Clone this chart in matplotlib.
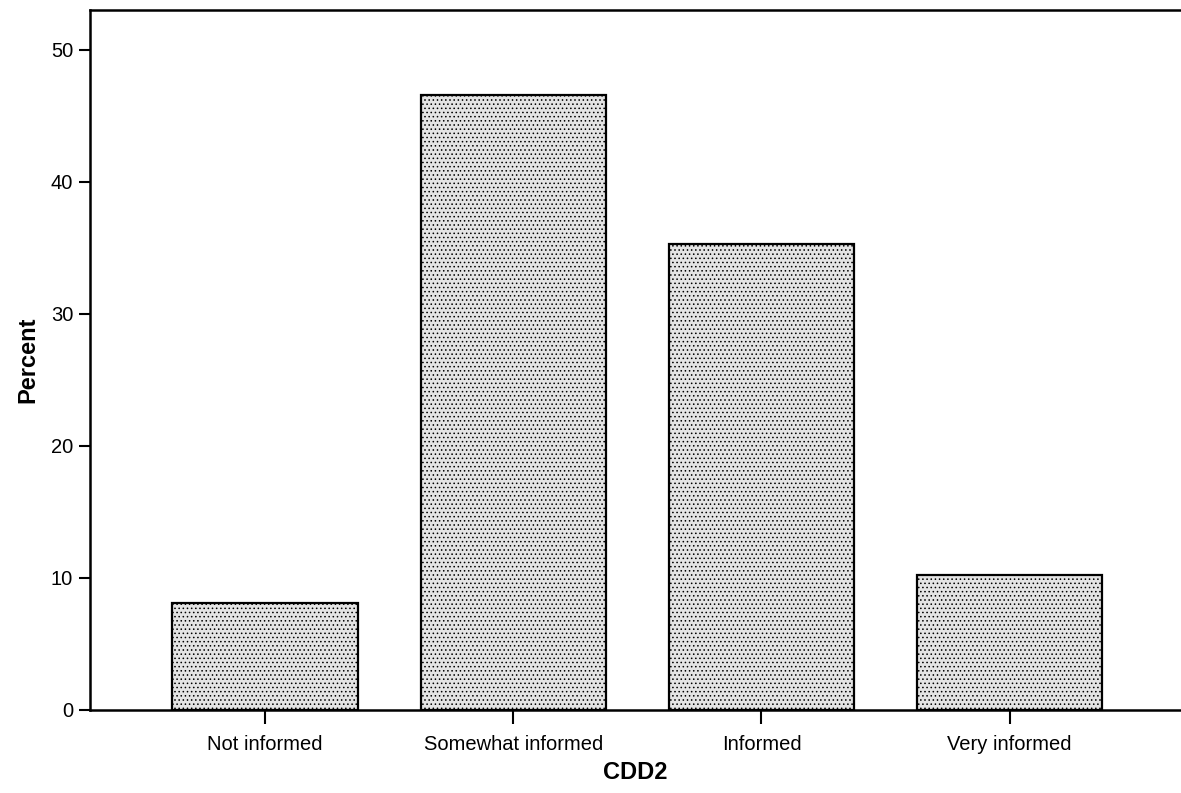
import matplotlib.pyplot as plt

# Werte
kategorien = ['Not informed', 'Somewhat informed', 'Informed', 'Very informed']
prozent = [8.1, 46.6, 35.3, 10.2]
y_ticks = [0, 10, 20, 30, 40, 50]

plt.rcParams['font.family'] = ['Liberation Sans', 'DejaVu Sans']
plt.rcParams['hatch.color'] = '#8c8c8c'
plt.rcParams['hatch.linewidth'] = 0.6

fig = plt.figure(figsize=(11.81, 7.93), dpi=100)
ax = fig.add_axes([0.076, 0.105, 0.924, 0.882])

pos = list(range(len(kategorien)))
ax.bar(pos, prozent, width=0.746, facecolor='#e4e4e4', edgecolor='black',
       linewidth=1.6, hatch='....', zorder=2)

ax.set_xlim(-0.706, 3.69)
ax.set_ylim(0, 53)
ax.set_xticks(pos)
ax.set_xticklabels(kategorien, fontsize=14.5)
ax.set_yticks(y_ticks)
ax.tick_params(axis='y', labelsize=14.5, length=8, width=1.5, direction='out', pad=4)
ax.tick_params(axis='x', length=10, width=1.5, direction='out', pad=8)

ax.spines['right'].set_visible(False)
for s in ['left', 'bottom', 'top']:
    ax.spines[s].set_linewidth(1.8)

ax.set_ylabel('Percent', fontsize=17, fontweight='bold', labelpad=8)
ax.set_xlabel('CDD2', fontsize=17, fontweight='bold', labelpad=5)

fig.savefig('out.png', dpi=100)
